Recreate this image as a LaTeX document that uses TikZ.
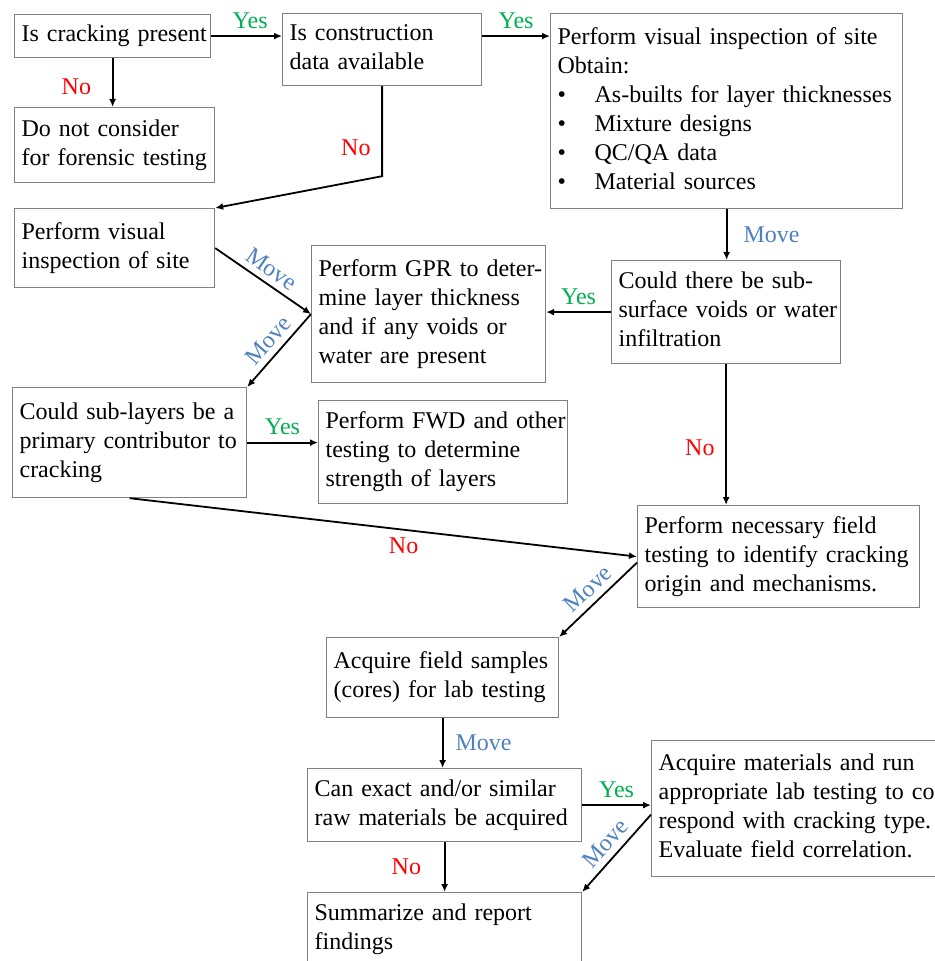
\documentclass[tikz,border=0pt]{standalone}
\usepackage{fontspec}
\setmainfont{Liberation Serif}
\usetikzlibrary{arrows.meta,positioning,calc}
\definecolor{yescol}{HTML}{00B050}
\definecolor{nocol}{HTML}{FF0000}
\definecolor{movecol}{HTML}{4F81BD}
\definecolor{boxgray}{HTML}{808080}
\newcommand{\lns}[1]{\begin{tabular}{@{}l@{}}#1\end{tabular}}
\newcommand{\itm}{\makebox[18.5pt][l]{\textbullet}}

\begin{document}
\begin{tikzpicture}[x=0.5pt,y=-0.5pt,>={Latex[length=4pt,width=3.5pt]},
  every node/.style={font=\fontsize{12}{14.5}\selectfont},
  box/.style={draw=boxgray,line width=.6pt,anchor=north west,align=left,inner xsep=3.5pt,inner ysep=0pt},
  a/.style={->,line width=.9pt},
  ytxt/.style={text=yescol},ntxt/.style={text=nocol},mtxt/.style={text=movecol,inner sep=3pt}]
\useasboundingbox (0,0) rectangle (934,961);
% boxes
\node[box,text width=91pt,minimum height=21.5pt] (crack) at (14,14) {\lns{Is cracking present}};
\node[box,text width=92.5pt,minimum height=36pt] (constr) at (282,13) {\lns{Is construction\\data available}};
\node[box,text width=169pt,minimum height=97.5pt] (visobt) at (550,13) {\lns{Perform visual inspection of site\\Obtain:\\
  \itm As-builts for layer thicknesses\\\itm Mixture designs\\\itm QC/QA data\\\itm Material sources}};
\node[box,text width=93pt,minimum height=37.5pt] (noforen) at (14,107) {\lns{Do not consider\\for forensic testing}};
\node[box,text width=93pt,minimum height=39.5pt] (visual) at (14,208) {\lns{Perform visual\\inspection of site}};
\node[box,text width=110pt,minimum height=68.5pt] (gpr) at (311,245) {\lns{Perform GPR to deter-\\mine layer thickness\\and if any voids or\\water are present}};
\node[box,text width=107.5pt,minimum height=51.5pt] (voids) at (611,260) {\lns{Could there be sub-\\surface voids or water\\infiltration}};
\node[box,text width=110pt,minimum height=55pt] (sublayer) at (12,387) {\lns{Could sub-layers be a\\primary contributor to\\cracking}};
\node[box,text width=117.5pt,minimum height=51.5pt] (fwd) at (318,400) {\lns{Perform FWD and other\\testing to determine\\strength of layers}};
\node[box,text width=134pt,minimum height=51pt] (field) at (637,505) {\lns{Perform necessary field\\testing to identify cracking\\origin and mechanisms.}};
\node[box,text width=109pt,minimum height=40pt] (samples) at (326,637) {\lns{Acquire field samples\\(cores) for lab testing}};
\node[box,text width=130pt,minimum height=36.5pt] (rawmat) at (307,768) {\lns{Can exact and/or similar\\raw materials be acquired}};
\node[box,text width=153pt,minimum height=68pt] (labtest) at (651,740) {\lns{Acquire materials and run\\appropriate lab testing to cor\\respond with cracking type.\\Evaluate field correlation.}};
\node[box,text width=130pt,minimum height=37pt] (report) at (307,892) {\lns{Summarize and report\\findings}};
% connectors
\draw[a] (crack.east) -- node[above,ytxt,pos=.55]{Yes} (crack.east -| constr.west);
\draw[a] (crack.east -| constr.east) -- node[above,ytxt]{Yes} (crack.east -| visobt.west);
\draw[a] (crack.south) -- node[left,ntxt,xshift=-7pt,pos=.58]{No} (crack.south |- noforen.north);
\draw[a] (constr.south) -- node[left,ntxt,xshift=-2pt,pos=.68]{No} ++(0,90) -- (visual.north east);
\draw[a] (visual.east) -- node[mtxt,sloped,above]{Move} (gpr.west);
\draw[a] (gpr.west) -- node[mtxt,sloped,above]{Move} (sublayer.north east);
\draw[a] (visobt.south) -- node[mtxt,right,xshift=5pt]{Move} (visobt.south |- voids.north);
\draw[a] (voids.west) -- node[above,ytxt]{Yes} (voids.west -| gpr.east);
\draw[a] (voids.south) -- node[left,ntxt,xshift=-2pt,pos=.59]{No} (voids.south |- field.north);
\draw[a] (sublayer.east) -- node[above,ytxt]{Yes} (sublayer.east -| fwd.west);
\draw[a] (sublayer.south) -- node[below,ntxt,pos=.54]{No} (field.west);
\draw[a] ([yshift=-3pt]field.west) -- node[mtxt,sloped,above]{Move} (samples.north east);
\draw[a] (samples.south) -- node[mtxt,right,xshift=3pt]{Move} (samples.south |- rawmat.north);
\draw[a] (rawmat.east) -- node[above,ytxt]{Yes} (rawmat.east -| labtest.west);
\draw[a] ([yshift=-3pt]labtest.west) -- node[mtxt,sloped,above]{Move} (report.north east);
\draw[a] (rawmat.south) -- node[left,ntxt,xshift=-8pt]{No} (rawmat.south |- report.north);
\end{tikzpicture}
\end{document}
